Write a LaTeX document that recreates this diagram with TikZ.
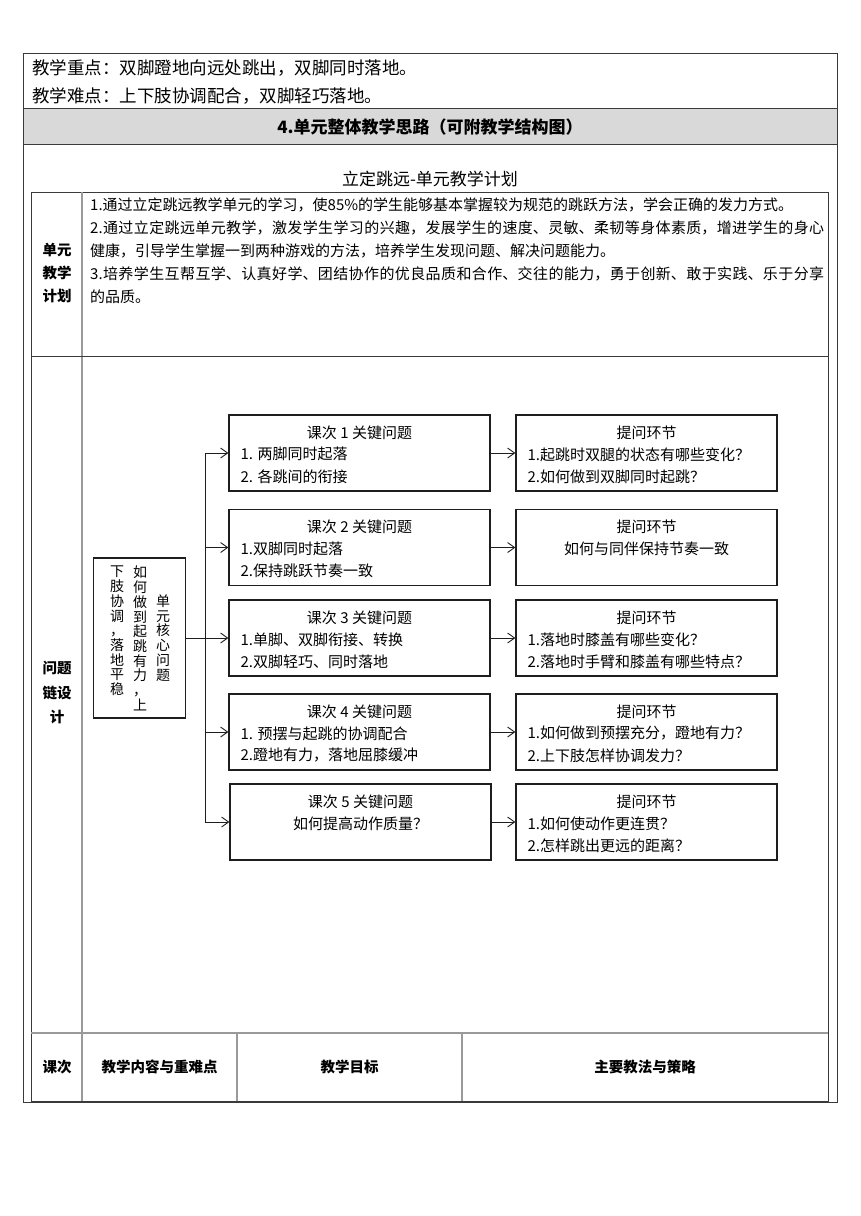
\documentclass[tikz,border=0pt]{standalone}
\usepackage{fontspec}
\setmainfont{Noto Sans CJK SC}
\usetikzlibrary{arrows.meta,positioning,calc}
\definecolor{lineDark}{HTML}{3A3A3A}
\definecolor{lineGray}{HTML}{9A9A9A}
\definecolor{bandGray}{HTML}{D9D9D9}
\definecolor{boxLine}{HTML}{1E1E1E}
\newcommand{\justline}[1]{\parbox{734pt}{\XeTeXlinebreaklocale "zh"\XeTeXlinebreakskip=0pt plus 2pt\parfillskip=0pt\relax #1}}
\tikzset{
    rowtxt/.style={font=\fontsize{17.5}{20}\selectfont, inner sep=0pt, anchor=west},
    plan/.style={font=\fontsize{15}{18}\selectfont, inner sep=0pt, anchor=west},
    head/.style={font=\bfseries\fontsize{14.5}{24}\selectfont, inner sep=0pt, align=center}
}
\begin{document}
\begin{tikzpicture}[x=1pt, y=-1pt,
    kbox/.style={draw=boxLine, line width=1.3pt, minimum width=261pt, minimum height=76pt, inner sep=0pt},
    ktxt/.style={font=\fontsize{15}{17}\selectfont, inner sep=0pt},
    vcol/.style={font=\fontsize{14}{14.7}\selectfont, inner sep=0pt, align=center},
    arr/.style={-{Straight Barb[length=7pt,width=10pt]}, line width=0.9pt, draw=boxLine},
    tabline/.style={draw=lineDark, line width=1pt},
    tablight/.style={draw=lineGray, line width=1.4pt}
]
\useasboundingbox[fill=white] (0,0) rectangle (860,1216);

% outer table
\fill[bandGray] (23,108) rectangle (837,144);
\draw[tabline] (23,53) rectangle (837,1102);
\draw[tabline] (23,108) -- (837,108);
\draw[tabline] (23,144) -- (837,144);
\node[rowtxt] (zd) at (32,68) {教学重点：双脚蹬地向远处跳出，双脚同时落地。};
\node[rowtxt] (nd) at (32,96) {教学难点：上下肢协调配合，双脚轻巧落地。};
\node[font=\bfseries\fontsize{17}{20}\selectfont, inner sep=0pt] (band) at (430,127) {4.单元整体教学思路（可附教学结构图）};
\node[font=\fontsize{17}{20}\selectfont, inner sep=0pt] (title) at (430,179) {立定跳远-单元教学计划};

% inner table
\draw[tabline] (31,192) rectangle (828,1101);
\draw[tablight] (82,192) -- (82,1101);
\draw[tabline] (31,356) -- (828,356);
\draw[tablight] (31,1033) -- (828,1033);
\draw[tablight] (237,1033) -- (237,1101);
\draw[tablight] (462,1033) -- (462,1101);

\node[head, font=\bfseries\fontsize{14.5}{23}\selectfont] (plan) at (57,273) {单元\\教学\\计划};
\node[head, font=\bfseries\fontsize{14.5}{24.5}\selectfont] (chain) at (57,693) {问题\\链设\\计};

\node[plan] (p1) at (90,205) {1.通过立定跳远教学单元的学习，使85\%的学生能够基本掌握较为规范的跳跃方法，学会正确的发力方式。};
\node[plan] (p2) at (90,228) {\justline{2.通过立定跳远单元教学，激发学生学习的兴趣，发展学生的速度、灵敏、柔韧等身体素质，增进学生的身心}};
\node[plan] (p3) at (90,251) {健康，引导学生掌握一到两种游戏的方法，培养学生发现问题、解决问题能力。};
\node[plan] (p4) at (90,274) {\justline{3.培养学生互帮互学、认真好学、团结协作的优良品质和合作、交往的能力，勇于创新、敢于实践、乐于分享}};
\node[plan] (p5) at (90,297) {的品质。};

\node[head] (kc) at (57,1067) {课次};
\node[head] (nr) at (159.5,1067) {教学内容与重难点};
\node[head] (mb) at (349.5,1067) {教学目标};
\node[head] (cl) at (645,1067) {主要教法与策略};

% core question
\node[draw=boxLine, line width=1.3pt, minimum width=92pt, minimum height=160pt, inner sep=0pt] (core) at (139.5,638) {};
\node[vcol] (c1) at (163,638) {单\\元\\核\\心\\问\\题};
\node[vcol, anchor=north] (c2) at (140,566) {如\\何\\做\\到\\起\\跳\\有\\力\\，\\上};
\node[vcol, anchor=north] (c3) at (117,566) {下\\肢\\协\\调\\，\\落\\地\\平\\稳};

% key questions per lesson
\node[kbox] (k1) at (359.5,453) {};
\node[kbox] (k2) at (359.5,547.5) {};
\node[kbox] (k3) at (359.5,638) {};
\node[kbox] (k4) at (359.5,732) {};
\node[kbox] (k5) at (360.5,822) {};
\node[kbox] (q1) at (646.5,453) {};
\node[kbox] (q2) at (646.5,547.5) {};
\node[kbox] (q3) at (646.5,638) {};
\node[kbox] (q4) at (646.5,732) {};
\node[kbox] (q5) at (646.5,822) {};

\node[ktxt] at ([yshift=-18pt]k1.north) {课次 1 关键问题};
\node[ktxt, anchor=west] at ([xshift=12pt,yshift=-40pt]k1.north west) {1. 两脚同时起落};
\node[ktxt, anchor=west] at ([xshift=12pt,yshift=-62pt]k1.north west) {2. 各跳间的衔接};
\node[ktxt] at ([yshift=-18pt]k2.north) {课次 2 关键问题};
\node[ktxt, anchor=west] at ([xshift=12pt,yshift=-40pt]k2.north west) {1.双脚同时起落};
\node[ktxt, anchor=west] at ([xshift=12pt,yshift=-62pt]k2.north west) {2.保持跳跃节奏一致};
\node[ktxt] at ([yshift=-18pt]k3.north) {课次 3 关键问题};
\node[ktxt, anchor=west] at ([xshift=12pt,yshift=-40pt]k3.north west) {1.单脚、双脚衔接、转换};
\node[ktxt, anchor=west] at ([xshift=12pt,yshift=-62pt]k3.north west) {2.双脚轻巧、同时落地};
\node[ktxt] at ([yshift=-18pt]k4.north) {课次 4 关键问题};
\node[ktxt, anchor=west] at ([xshift=12pt,yshift=-40pt]k4.north west) {1. 预摆与起跳的协调配合};
\node[ktxt, anchor=west] at ([xshift=12pt,yshift=-62pt]k4.north west) {2.蹬地有力，落地屈膝缓冲};
\node[ktxt] at ([yshift=-18pt]k5.north) {课次 5 关键问题};
\node[ktxt] at ([yshift=-40pt]k5.north) {如何提高动作质量？};

\node[ktxt] at ([yshift=-18pt]q1.north) {提问环节};
\node[ktxt, anchor=west] at ([xshift=12pt,yshift=-40pt]q1.north west) {1.起跳时双腿的状态有哪些变化？};
\node[ktxt, anchor=west] at ([xshift=12pt,yshift=-62pt]q1.north west) {2.如何做到双脚同时起跳？};
\node[ktxt] at ([yshift=-18pt]q2.north) {提问环节};
\node[ktxt] at ([yshift=-40pt]q2.north) {如何与同伴保持节奏一致};
\node[ktxt] at ([yshift=-18pt]q3.north) {提问环节};
\node[ktxt, anchor=west] at ([xshift=12pt,yshift=-40pt]q3.north west) {1.落地时膝盖有哪些变化？};
\node[ktxt, anchor=west] at ([xshift=12pt,yshift=-62pt]q3.north west) {2.落地时手臂和膝盖有哪些特点？};
\node[ktxt] at ([yshift=-18pt]q4.north) {提问环节};
\node[ktxt, anchor=west] at ([xshift=12pt,yshift=-40pt]q4.north west) {1.如何做到预摆充分，蹬地有力？};
\node[ktxt, anchor=west] at ([xshift=12pt,yshift=-62pt]q4.north west) {2.上下肢怎样协调发力？};
\node[ktxt] at ([yshift=-18pt]q5.north) {提问环节};
\node[ktxt, anchor=west] at ([xshift=12pt,yshift=-40pt]q5.north west) {1.如何使动作更连贯？};
\node[ktxt, anchor=west] at ([xshift=12pt,yshift=-62pt]q5.north west) {2.怎样跳出更远的距离？};

% connectors
\coordinate (trunk) at (205,638);
\draw[arr] (core) -- (k3);
\draw[line width=0.9pt, draw=boxLine] (trunk|-k1) -- (trunk|-k5);
\foreach \k in {k1,k2,k4,k5}
    \draw[arr] (trunk|-\k) -- (\k);
\foreach \i in {1,...,5}
    \draw[arr] (k\i) -- (q\i);
\end{tikzpicture}
\end{document}
